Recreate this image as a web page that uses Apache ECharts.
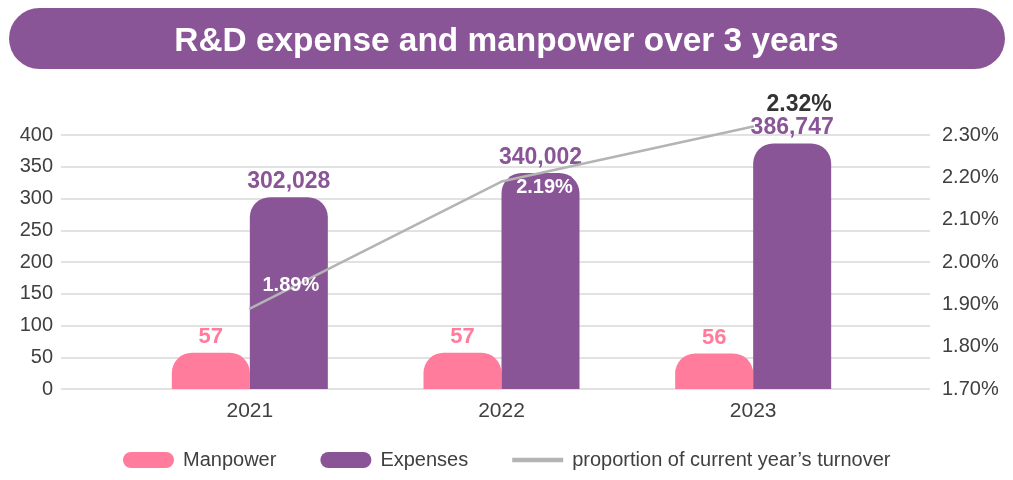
<!DOCTYPE html>
<html><head><meta charset="utf-8">
<script src="https://cdn.jsdelivr.net/npm/echarts@6/dist/echarts.min.js"></script>
<style>html,body{margin:0;padding:0;background:#fff}#c{width:1013px;height:480px}</style>
</head><body><div id="c"></div>
<script>
// ---- data ----
const title = 'R&D expense and manpower over 3 years';
const years = ['2021', '2022', '2023'];
const manpower = [57, 57, 56];
const expenses = [302028, 340002, 386747];
const turnoverPct = [1.89, 2.19, 2.32];
const seriesNames = ['Manpower', 'Expenses', 'proportion of current year\u2019s turnover'];
const leftMin = 0, leftMax = 400, leftStep = 50;
const rightMin = 1.7, rightMax = 2.3, rightStep = 0.1;

// ---- styles ----
const FONT = '"Liberation Sans", Arial, sans-serif';
const PINK = '#FF7C9C', PURPLE = '#8A5597', GRAY = '#B4B4B4', TXT = '#404040';
const TOP = 135, BOTTOM = 91;
const pctLabelOffsets = [[41, -23], [43, 6], [46, -22]];
const pctLabelColors = ['#fff', '#fff', '#333'];
const pctLabelSizes = [20, 20, 23];

const chart = echarts.init(document.getElementById('c'), null, {renderer: 'canvas'});
const pill = 'path://M8,0 H43 A8,8 0 0 1 43,16 H8 A8,8 0 0 1 8,0 Z';
const bar = 'path://M0,0 H54 V5 H0 Z';

chart.setOption({
  animation: false,
  textStyle: {fontFamily: FONT},
  graphic: [{
    type: 'rect', left: 9, top: 8, z: 0,
    shape: {width: 996, height: 61, r: 30.5},
    style: {fill: PURPLE}
  }],
  title: {
    text: title, left: 'center', top: 20, z: 10,
    textStyle: {color: '#fff', fontSize: 33.4, fontWeight: 'bold', fontFamily: FONT}
  },
  legend: {
    left: 118, top: 445, itemWidth: 51, itemHeight: 16, itemGap: 44,
    symbolKeepAspect: true,
    textStyle: {color: TXT, fontSize: 20, fontFamily: FONT, padding: [0, 0, 0, 4]},
    data: [
      {name: seriesNames[0], icon: pill},
      {name: seriesNames[1], icon: pill},
      {name: seriesNames[2], icon: bar}
    ]
  },
  grid: [
    {left: 124, right: 134, top: TOP, bottom: BOTTOM},
    {left: 61, right: 83, top: TOP, bottom: BOTTOM}
  ],
  xAxis: [
    {type: 'category', gridIndex: 0, data: years,
     axisLine: {show: false}, axisTick: {show: false},
     axisLabel: {color: TXT, fontSize: 21, margin: 12, fontFamily: FONT}},
    {type: 'value', gridIndex: 1, show: false, min: 0, max: 1}
  ],
  yAxis: [
    {type: 'value', gridIndex: 1, position: 'left', min: leftMin, max: leftMax, interval: leftStep,
     axisLine: {show: false}, axisTick: {show: false},
     axisLabel: {color: TXT, fontSize: 20, margin: 8, fontFamily: FONT},
     splitLine: {lineStyle: {color: '#D9D9D9', width: 1.5}}},
    {type: 'value', gridIndex: 1, position: 'right', min: rightMin, max: rightMax, interval: rightStep,
     axisLine: {show: false}, axisTick: {show: false}, splitLine: {show: false},
     axisLabel: {color: TXT, fontSize: 20, margin: 12, fontFamily: FONT,
       formatter: v => v.toFixed(2) + '%'}},
    {type: 'value', gridIndex: 0, show: false, min: leftMin, max: leftMax, splitLine: {show: false}},
    {type: 'value', gridIndex: 0, show: false, min: rightMin, max: rightMax, splitLine: {show: false}}
  ],
  series: [
    {
      name: seriesNames[0], type: 'bar', xAxisIndex: 0, yAxisIndex: 2,
      data: manpower, barWidth: 78, barGap: '0%',
      itemStyle: {color: PINK, borderRadius: [20, 20, 0, 0]},
      label: {show: true, position: 'top', distance: 5, color: PINK, fontSize: 22,
              fontWeight: 'bold', fontFamily: FONT}
    },
    {
      name: seriesNames[1], type: 'bar', xAxisIndex: 0, yAxisIndex: 2,
      data: expenses.map(v => v / 1000), barWidth: 78, barGap: '0%',
      itemStyle: {color: PURPLE, borderRadius: [20, 20, 0, 0]},
      label: {show: true, position: 'top', distance: 4, color: PURPLE, fontSize: 23,
              fontWeight: 'bold', fontFamily: FONT,
              formatter: p => expenses[p.dataIndex].toLocaleString('en-US')}
    },
    {
      name: seriesNames[2], type: 'line', xAxisIndex: 0, yAxisIndex: 3, z: 5,
      clip: false, showSymbol: true, symbol: 'circle', symbolSize: 2,
      itemStyle: {color: GRAY}, lineStyle: {color: GRAY, width: 2.5},
      data: turnoverPct.map((v, i) => ({
        value: v,
        label: {show: true, position: 'inside', offset: pctLabelOffsets[i],
                color: pctLabelColors[i], fontSize: pctLabelSizes[i], fontWeight: 'bold',
                fontFamily: FONT, formatter: v.toFixed(2) + '%'}
      }))
    }
  ]
});
</script></body></html>
